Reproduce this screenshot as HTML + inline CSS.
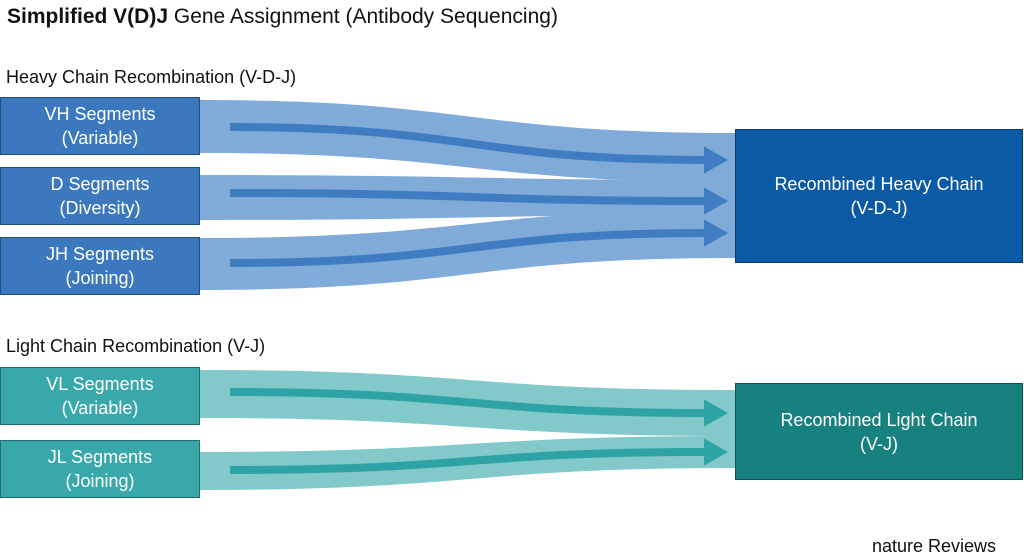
<!DOCTYPE html>
<html><head><meta charset="utf-8"><style>
body{margin:0;width:1024px;height:559px;background:#fff;font-family:"Liberation Sans",sans-serif;overflow:hidden;position:relative}
.t{position:absolute;color:#111}
.b{position:absolute;color:#fff;display:flex;align-items:center;justify-content:center;text-align:center;font-size:18px;line-height:24px;box-sizing:border-box;border:1px solid rgba(0,0,0,0.35)}
</style></head><body>
<div class="t" style="left:7px;top:5px;font-size:21px"><b>Simplified V(D)J</b> Gene Assignment (Antibody Sequencing)</div>
<div class="t" style="left:6px;top:67px;font-size:18px">Heavy Chain Recombination (V-D-J)</div>
<div class="t" style="left:6px;top:336px;font-size:18px">Light Chain Recombination (V-J)</div>
<div class="t" style="left:872px;top:536px;font-size:18px">nature Reviews</div>
<svg width="1024" height="559" style="position:absolute;left:0;top:0">
<defs>
<marker id="ab" markerWidth="3" markerHeight="3.4" refX="0.5" refY="1.7" orient="auto" markerUnits="strokeWidth"><path d="M0,0 L3,1.7 L0,3.4Z" fill="#3f7cc2"/></marker>
<marker id="at" markerWidth="3" markerHeight="3.4" refX="0.5" refY="1.7" orient="auto" markerUnits="strokeWidth"><path d="M0,0 L3,1.7 L0,3.4Z" fill="#2ea3a5"/></marker>
</defs>
<g fill="#6a9dd3" opacity="0.85">
<path d="M200,100 C470,100 470,133 735,133 L735,182 C470,182 470,153 200,153Z"/>
<path d="M200,175 C470,175 470,180 735,180 L735,215 C470,215 470,220 200,220Z"/>
<path d="M200,238 C470,238 470,210 735,210 L735,258 C470,258 470,290 200,290Z"/>
</g>
<g fill="none" stroke="#3f7cc2" stroke-width="8">
<path d="M230,127 C470,127 470,160 708,160" marker-end="url(#ab)"/>
<path d="M230,193 C470,193 470,201 708,201" marker-end="url(#ab)"/>
<path d="M230,263 C470,263 470,233 708,233" marker-end="url(#ab)"/>
</g>
<g fill="#6fc0c1" opacity="0.85">
<path d="M200,370 C470,370 470,390 735,390 L735,436 C470,436 470,418 200,418Z"/>
<path d="M200,452 C470,452 470,436 735,436 L735,468 C470,468 470,490 200,490Z"/>
</g>
<g fill="none" stroke="#2ea3a5" stroke-width="8">
<path d="M230,392 C470,392 470,413 708,413" marker-end="url(#at)"/>
<path d="M230,470 C470,470 470,452 708,452" marker-end="url(#at)"/>
</g>
</svg>
<div class="b" style="left:0;top:97px;width:200px;height:58px;background:#3b78bd">VH Segments<br>(Variable)</div>
<div class="b" style="left:0;top:167px;width:200px;height:58px;background:#3b78bd">D Segments<br>(Diversity)</div>
<div class="b" style="left:0;top:237px;width:200px;height:58px;background:#3b78bd">JH Segments<br>(Joining)</div>
<div class="b" style="left:735px;top:129px;width:288px;height:134px;background:#0b5aa5">Recombined Heavy Chain<br>(V-D-J)</div>
<div class="b" style="left:0;top:367px;width:200px;height:58px;background:#39a8ab">VL Segments<br>(Variable)</div>
<div class="b" style="left:0;top:440px;width:200px;height:58px;background:#39a8ab">JL Segments<br>(Joining)</div>
<div class="b" style="left:735px;top:383px;width:288px;height:97px;background:#178180">Recombined Light Chain<br>(V-J)</div>
</body></html>
